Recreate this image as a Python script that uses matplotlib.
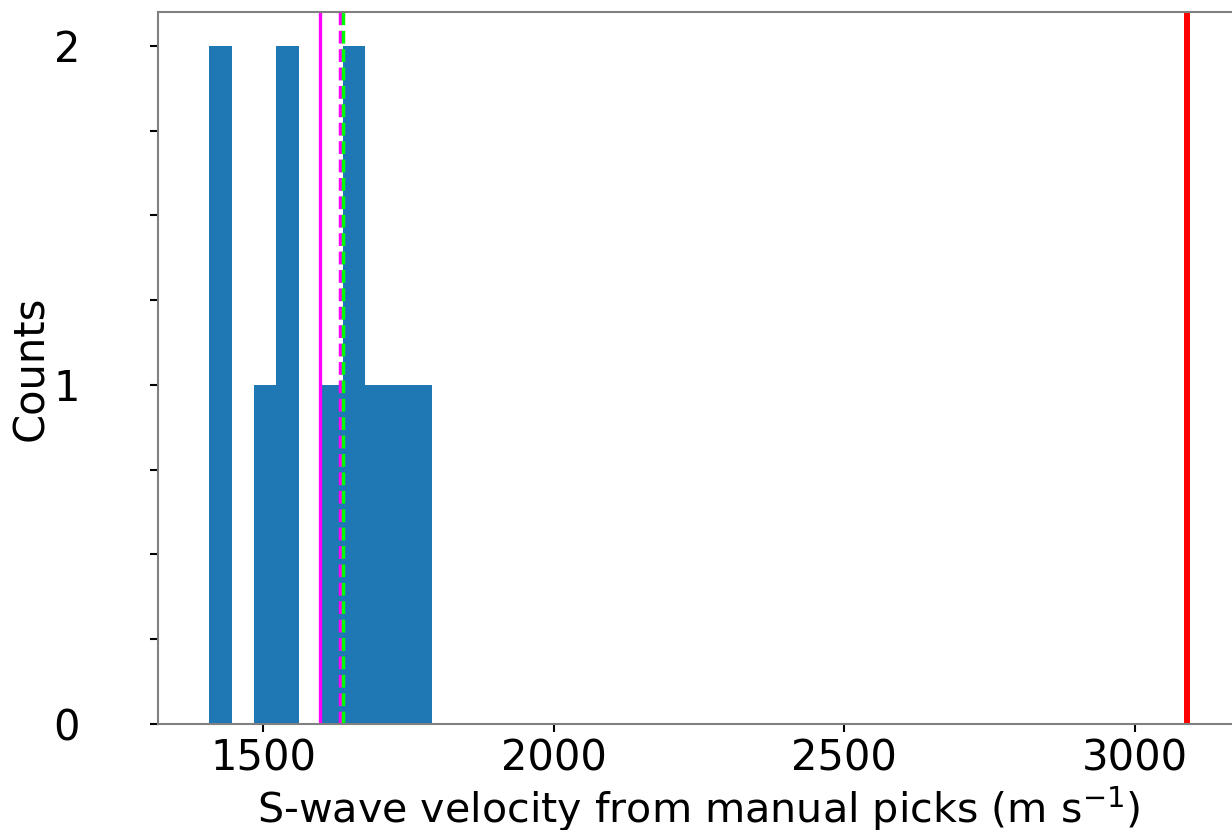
import numpy as np
import matplotlib
matplotlib.use('Agg')
import matplotlib.pyplot as plt
from matplotlib.ticker import MultipleLocator

# S-wave velocities from manual picks (m/s)
vs_picks = [1407.6, 1425, 1500, 1530, 1545, 1620, 1645, 1660, 1695, 1730, 1790.7]

vs_mean = 1597.0        # solid magenta
vs_dashed_a = 1631.6    # dashed magenta
vs_dashed_b = 1636.8    # dashed green
vs_ref = 3089.0         # red

xlim = (1319, 3181)
ylim = (0, 2.1)

fig = plt.figure(figsize=(12.32, 8.30), dpi=100)
ax = fig.add_axes((158/1232, 106/830, (1240-158)/1232, 712/830))

ax.hist(vs_picks, bins=10, color='#1f77b4')
ax.axvline(vs_mean, color='magenta', lw=2.4)
ax.axvline(vs_dashed_a, color='magenta', lw=2.5, ls='--')
ax.axvline(vs_dashed_b, color='lime', lw=2.5, ls='--')
ax.axvline(vs_ref, color='red', lw=4.3)

ax.set_xlim(*xlim)
ax.set_ylim(*ylim)
ax.set_xticks([1500, 2000, 2500, 3000])
ax.yaxis.set_major_locator(MultipleLocator(1))
ax.yaxis.set_minor_locator(MultipleLocator(0.25))

ax.tick_params(axis='both', which='both', labelsize=30, width=1.5, length=6, color='black')
ax.tick_params(axis='y', which='major', pad=50)
for s in ax.spines.values():
    s.set_color('#808080')
    s.set_linewidth(1.5)
# right side is cropped off in the original
ax.spines['right'].set_visible(False)

ax.set_xlabel('S-wave velocity from manual picks (m s$^{-1}$)', fontsize=29.7)
ax.set_ylabel('Counts', fontsize=30, labelpad=1)

fig.savefig('out.png', dpi=100)
